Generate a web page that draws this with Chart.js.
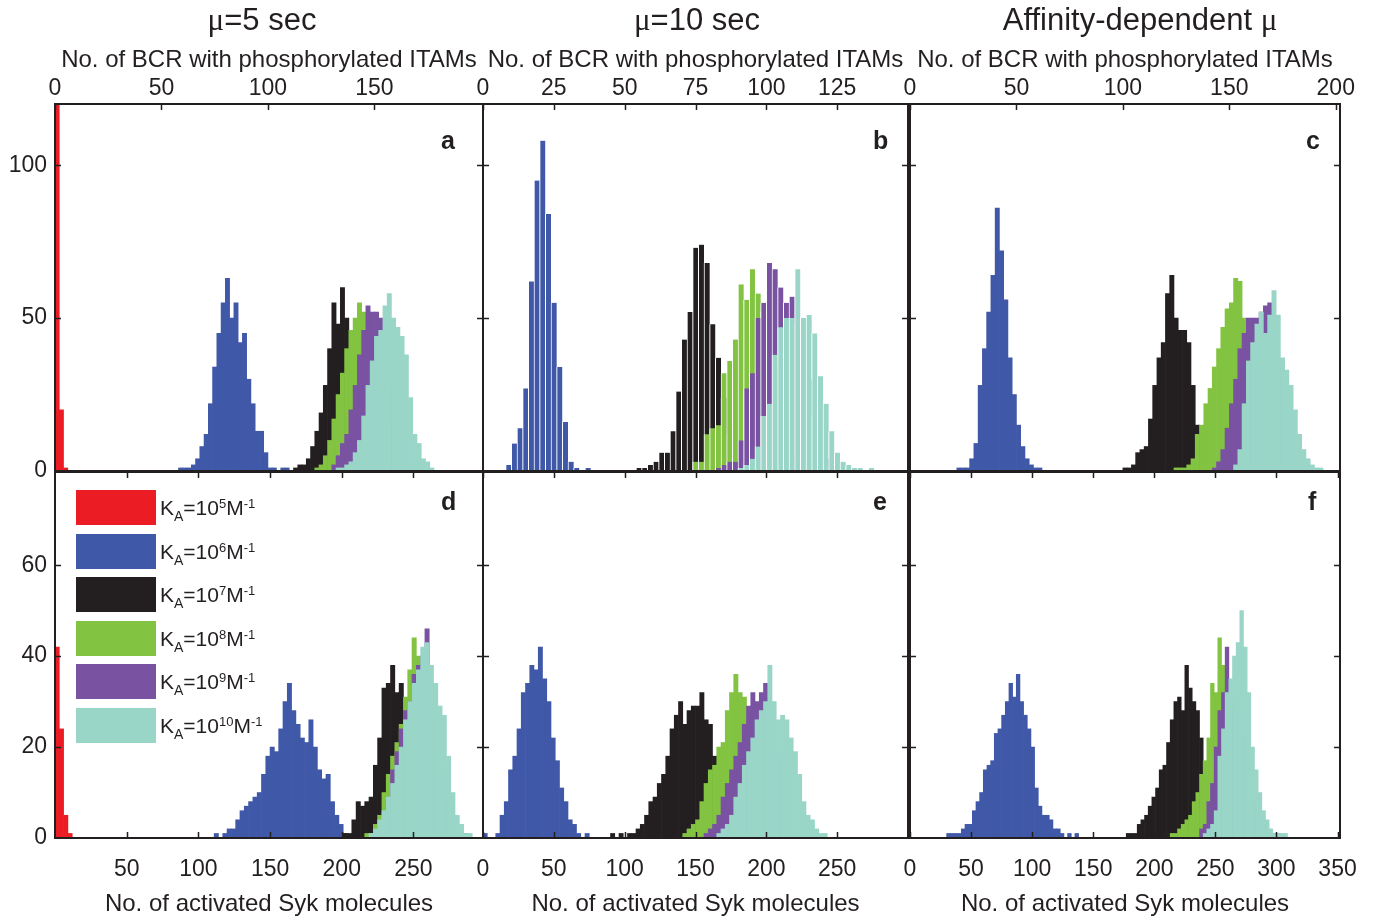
<!DOCTYPE html>
<html>
<head>
<meta charset="utf-8">
<script src="https://cdn.jsdelivr.net/npm/chart.js@4.4.0/dist/chart.umd.min.js"></script>
<style>
  html, body { margin: 0; padding: 0; background: #fff; }
  #fig { position: relative; width: 1384px; height: 922px; overflow: hidden;
         font-family: "Liberation Sans", Arial, sans-serif; color: #231f20; }
  #fig canvas { position: absolute; left: 0; top: 0; }
  .title { position: absolute; top: 1px; font-size: 31px; line-height: 38px;
           white-space: nowrap; transform: translateX(-50%); }
  .mu { font-family: "Liberation Serif", "DejaVu Serif", serif; }
  .tag { position: absolute; font-weight: bold; font-size: 25px; line-height: 30px; }
  #legend { position: absolute; left: 76px; top: 490px; }
  #legend .row { position: absolute; left: 0; width: 220px; height: 35px; }
  #legend .box { position: absolute; left: 0; top: 0; width: 80px; height: 35px; }
  #legend .txt { position: absolute; left: 84px; top: 0; font-size: 21px; line-height: 35px; white-space: nowrap; }
  #legend .sub { font-size: 14px; position: relative; top: 6px; }
  #legend .sup { font-size: 13px; position: relative; top: -7px; }
</style>
</head>
<body>
<div id="fig">
  <canvas id="pa" width="1384" height="922"></canvas>
  <canvas id="pb" width="1384" height="922"></canvas>
  <canvas id="pc" width="1384" height="922"></canvas>
  <canvas id="pd" width="1384" height="922"></canvas>
  <canvas id="pe" width="1384" height="922"></canvas>
  <canvas id="pf" width="1384" height="922"></canvas>

  <div class="title" style="left:262px"><span class="mu">μ</span>=5 sec</div>
  <div class="title" style="left:697px"><span class="mu">μ</span>=10 sec</div>
  <div class="title" style="left:1140px">Affinity-dependent <span class="mu">μ</span></div>

  <div class="tag" style="left:441px; top:125px">a</div>
  <div class="tag" style="left:873px; top:125px">b</div>
  <div class="tag" style="left:1306px; top:125px">c</div>
  <div class="tag" style="left:441px; top:486px">d</div>
  <div class="tag" style="left:873px; top:486px">e</div>
  <div class="tag" style="left:1308px; top:486px">f</div>

  <div id="legend"></div>
</div>

<script>
// 系列の色 (K_A = 10^5 ... 10^10)
const seriesColors = ['#ec1c24', '#4058a8', '#231f20', '#82c341', '#7a52a2', '#99d6c8'];
const legendExponents = ['5', '6', '7', '8', '9', '10'];

// 上段: No. of BCR with phosphorylated ITAMs (bin幅 2, xFrom = 最初のbin中心)
const aFrom   = [1, 59, 113, 123, 131, 133];
const aRed    = [250, 20, 1];
const aBlue   = [1, 1, 1, 2, 4, 8, 12, 22, 34, 45, 55, 63, 50, 55, 42, 45, 30, 22, 13, 13, 6, 1, 1, 0, 1, 1];
const aBlack  = [1, 2, 2, 4, 8, 13, 19, 28, 40, 55, 48, 60, 50, 44, 30, 18, 8, 3, 1];
const aGreen  = [1, 2, 5, 10, 17, 25, 32, 40, 46, 50, 55, 52, 48, 38, 26, 14, 6, 2];
const aPurple = [2, 5, 9, 12, 20, 28, 38, 46, 54, 52, 52, 50, 40, 28, 16, 8, 3, 1];
const aCyan   = [1, 1, 2, 3, 6, 10, 18, 28, 36, 44, 46, 54, 58, 50, 47, 44, 38, 24, 12, 9, 4, 3, 1];

const bFrom   = [0, 9, 55, 75, 83, 91];
const bBlue   = [2, 9, 14, 27, 62, 95, 108, 84, 55, 34, 16, 3, 1, 0, 1];
const bBlack  = [1, 1, 2, 3, 6, 6, 13, 26, 43, 52, 73, 74, 68, 48, 37, 24, 12, 5, 2];
const bGreen  = [3, 3, 12, 14, 15, 32, 36, 43, 61, 56, 66, 58, 52, 44, 34, 22, 12, 5, 2];
const bPurple = [1, 2, 3, 3, 10, 27, 32, 50, 55, 68, 66, 60, 55, 57, 48, 40, 30, 18, 10, 4, 1];
const bCyan   = [1, 2, 4, 8, 18, 22, 38, 47, 50, 50, 66, 50, 51, 45, 31, 22, 13, 6, 3, 2, 1, 1, 0, 1];

const cFrom   = [0, 23, 101, 125, 143, 153];
const cBlue   = [1, 1, 1, 4, 9, 28, 40, 52, 64, 86, 72, 56, 37, 25, 15, 8, 4, 2, 1, 1];
const cBlack  = [1, 1, 2, 6, 7, 8, 17, 28, 37, 42, 58, 64, 50, 46, 46, 42, 28, 15, 8, 3, 1];
const cGreen  = [1, 1, 1, 2, 4, 12, 15, 22, 27, 34, 40, 47, 53, 55, 63, 62, 50, 38, 25, 12, 5, 2];
const cPurple = [1, 3, 7, 14, 22, 30, 40, 45, 50, 50, 50, 52, 54, 55, 44, 34, 22, 12, 5, 2];
const cCyan   = [2, 7, 22, 36, 42, 48, 52, 45, 51, 59, 51, 37, 33, 28, 20, 12, 7, 4, 2, 1, 1];

// 下段: No. of activated Syk molecules (bin幅 3)
const dFrom   = [1.5, 112.5, 202.5, 217.5, 226.5, 220.5];
const dRed    = [42, 24, 5, 1];
const dBlue   = [1, 0, 1, 2, 2, 4, 6, 7, 8, 9, 10, 14, 18, 20, 19, 24, 30, 34, 28, 25, 22, 21, 26, 20, 15, 13, 14, 8, 5, 3, 1];
const dBlack  = [1, 1, 4, 8, 7, 8, 9, 16, 22, 33, 34, 38, 32, 34, 26, 18, 10, 5, 2];
const dGreen  = [1, 1, 3, 5, 10, 14, 18, 21, 25, 31, 37, 44, 40, 34, 25, 16, 9, 4, 2];
const dPurple = [1, 3, 8, 15, 19, 24, 28, 30, 36, 38, 40, 46, 34, 26, 22, 14, 8, 4, 3, 2, 1];
const dCyan   = [1, 2, 4, 6, 9, 12, 16, 20, 26, 30, 34, 37, 42, 43, 38, 34, 29, 27, 18, 10, 5, 3, 1, 1];

const eFrom   = [0, 1.5, 91.5, 142.5, 157.5, 166.5];
const eBlue   = [1, 0, 0, 1, 5, 8, 15, 18, 24, 32, 34, 38, 37, 42, 35, 30, 22, 17, 11, 8, 4, 3, 1, 0, 1];
const eBlack  = [1, 0, 1, 0, 1, 1, 2, 3, 5, 8, 9, 12, 14, 18, 24, 27, 30, 25, 28, 29, 29, 32, 26, 25, 18, 10, 5, 2];
const eGreen  = [1, 2, 3, 4, 8, 12, 15, 16, 20, 21, 28, 32, 36, 32, 31, 28, 22, 15, 9, 5, 2];
const ePurple = [1, 2, 3, 5, 9, 12, 15, 18, 21, 25, 29, 32, 30, 32, 34, 30, 24, 18, 12, 6, 3, 1];
const eCyan   = [1, 2, 3, 5, 9, 12, 16, 19, 22, 26, 28, 30, 38, 30, 26, 27, 26, 22, 19, 14, 8, 5, 4, 2, 1, 1];

const fFrom   = [0, 31.5, 178.5, 214.5, 238.5, 241.5];
const fBlue   = [1, 1, 1, 1, 2, 3, 3, 6, 8, 10, 15, 16, 17, 23, 24, 27, 30, 34, 31, 36, 30, 27, 24, 20, 11, 7, 5, 5, 4, 2, 2, 1, 0, 1, 0, 1];
const fBlack  = [1, 1, 1, 3, 4, 5, 7, 9, 11, 15, 16, 21, 26, 30, 31, 28, 38, 33, 30, 28, 22, 15, 8, 4, 2];
const fGreen  = [1, 1, 2, 3, 4, 5, 8, 10, 14, 17, 22, 34, 32, 44, 38, 34, 30, 22, 14, 7, 3, 1];
const fPurple = [2, 3, 8, 12, 20, 28, 32, 42, 30, 28, 26, 22, 18, 12, 8, 6, 4, 3, 2, 1, 1, 1];
const fCyan   = [1, 2, 3, 6, 18, 24, 32, 35, 40, 43, 50, 42, 32, 20, 15, 10, 6, 4, 2, 1, 1, 1, 1];

// 目盛り
const topTicksA = [0, 50, 100, 150];
const topTicksB = [0, 25, 50, 75, 100, 125];
const topTicksC = [0, 50, 100, 150, 200];
const botTicksD = [50, 100, 150, 200, 250];
const botTicksE = [0, 50, 100, 150, 200, 250];
const botTicksF = [0, 50, 100, 150, 200, 250, 300, 350];
const yTicksTop = [0, 50, 100];
const yTicksBot = [0, 20, 40, 60];

const ink = '#231f20';
const fontFamily = '"Liberation Sans", Arial, sans-serif';

// 枠と内向きの目盛り線
function frame(xTicks, yTicks, bothSides) {
    return {
        id: 'frame',
        afterDatasetsDraw(chart) {
            const { ctx, chartArea, scales } = chart;
            const { left, right, top, bottom } = chartArea;
            ctx.save();
            ctx.strokeStyle = ink;
            ctx.lineWidth = 1.5;
            ctx.beginPath();
            xTicks.forEach(v => {
                const px = Math.round(scales.x.getPixelForValue(v)) + 0.5;
                if (bothSides || scales.x.options.position === 'top') {
                    ctx.moveTo(px, top); ctx.lineTo(px, top + 6);
                }
                if (scales.x.options.position === 'bottom') {
                    ctx.moveTo(px, bottom); ctx.lineTo(px, bottom - 6);
                }
            });
            yTicks.forEach(v => {
                if (v === 0) return;
                const py = Math.round(scales.y.getPixelForValue(v)) + 0.5;
                ctx.moveTo(left, py); ctx.lineTo(left + 6, py);
                ctx.moveTo(right, py); ctx.lineTo(right - 6, py);
            });
            ctx.stroke();
            ctx.lineWidth = 2;
            ctx.strokeRect(left, top, right - left, bottom - top);
            ctx.restore();
        }
    };
}

function makePanel(id, p) {
    const datasets = [];
    p.series.forEach((counts, i) => {
        if (!counts) return;
        datasets.push({
            data: counts.map((c, k) => ({ x: p.from[i] + k * p.bin, y: c })),
            backgroundColor: seriesColors[i],
            borderColor: '#ffffff',
            borderWidth: p.seams ? { top: 0, right: 0, bottom: 0, left: 1 } : 0,
            borderSkipped: false,
            grouped: false,
            barPercentage: 1,
            categoryPercentage: 1,
            clip: 0,
            order: 5 - i   // 後の系列ほど手前に描く
        });
    });

    const topRow = p.row === 0;
    new Chart(document.getElementById(id), {
        type: 'bar',
        data: { datasets },
        options: {
            responsive: false,
            animation: false,
            devicePixelRatio: 1,
            events: [],
            layout: { padding: p.pad },
            plugins: { legend: { display: false }, tooltip: { enabled: false } },
            scales: {
                x: {
                    type: 'linear',
                    position: topRow ? 'top' : 'bottom',
                    min: 0,
                    max: p.xMax,
                    offset: false,
                    grid: { display: false, drawTicks: false },
                    border: { display: false },
                    ticks: {
                        font: { family: fontFamily, size: 23 },
                        color: ink,
                        padding: topRow ? 2 : 18,
                        autoSkip: false,
                        maxRotation: 0
                    },
                    title: {
                        display: true,
                        text: topRow ? 'No. of BCR with phosphorylated ITAMs' : 'No. of activated Syk molecules',
                        font: { family: fontFamily, size: 24 },
                        color: ink,
                        padding: topRow ? { top: 16, bottom: 0 } : { top: 0, bottom: 3 }
                    },
                    afterBuildTicks: s => { s.ticks = p.xTicks.map(v => ({ value: v })); },
                    afterFit: s => {
                        s.height = topRow ? 74 : 84;
                        s.paddingLeft = 0; s.paddingRight = 0;
                    }
                },
                y: {
                    display: p.showY,
                    min: 0,
                    max: p.yMax,
                    grid: { display: false, drawTicks: false },
                    border: { display: false },
                    ticks: {
                        font: { family: fontFamily, size: 23 },
                        color: ink,
                        padding: 8
                    },
                    afterBuildTicks: s => { s.ticks = p.yTicks.map(v => ({ value: v })); },
                    afterFit: s => {
                        s.width = p.showY ? 55 : 0;
                        s.paddingTop = 0; s.paddingBottom = 0;
                    }
                }
            }
        },
        plugins: [frame(p.xTicks, p.yTicks, !topRow)]
    });
}

makePanel('pa', { row: 0, bin: 2, from: aFrom, series: [aRed, aBlue, aBlack, aGreen, aPurple, aCyan],
    xMax: 201, yMax: 120, xTicks: topTicksA, yTicks: yTicksTop, showY: true,
    pad: { left: 0, top: 30, right: 901, bottom: 451 } });
makePanel('pb', { row: 0, bin: 2, from: bFrom, series: [null, bBlue, bBlack, bGreen, bPurple, bCyan],
    xMax: 150, yMax: 120, xTicks: topTicksB, yTicks: yTicksTop, showY: false, seams: true,
    pad: { left: 483, top: 30, right: 476, bottom: 451 } });
makePanel('pc', { row: 0, bin: 2, from: cFrom, series: [null, cBlue, cBlack, cGreen, cPurple, cCyan],
    xMax: 202, yMax: 120, xTicks: topTicksC, yTicks: yTicksTop, showY: false,
    pad: { left: 910, top: 30, right: 44, bottom: 451 } });
makePanel('pd', { row: 1, bin: 3, from: dFrom, series: [dRed, dBlue, dBlack, dGreen, dPurple, dCyan],
    xMax: 298.5, yMax: 80.5, xTicks: botTicksD, yTicks: yTicksBot, showY: true,
    pad: { left: 0, top: 472, right: 901, bottom: 0 } });
makePanel('pe', { row: 1, bin: 3, from: eFrom, series: [null, eBlue, eBlack, eGreen, ePurple, eCyan],
    xMax: 300, yMax: 80.5, xTicks: botTicksE, yTicks: yTicksBot, showY: false,
    pad: { left: 483, top: 472, right: 476, bottom: 0 } });
makePanel('pf', { row: 1, bin: 3, from: fFrom, series: [null, fBlue, fBlack, fGreen, fPurple, fCyan],
    xMax: 352, yMax: 80.5, xTicks: botTicksF, yTicks: yTicksBot, showY: false,
    pad: { left: 910, top: 472, right: 44, bottom: 0 } });

// 凡例 (パネル d)
const legend = document.getElementById('legend');
legendExponents.forEach((e, i) => {
    const row = document.createElement('div');
    row.className = 'row';
    row.style.top = (i * 43.5) + 'px';
    row.innerHTML = '<span class="box" style="background:' + seriesColors[i] + '"></span>' +
        '<span class="txt">K<span class="sub">A</span>=10<span class="sup">' + e + '</span>M<span class="sup">-1</span></span>';
    legend.appendChild(row);
});
</script>
</body>
</html>
